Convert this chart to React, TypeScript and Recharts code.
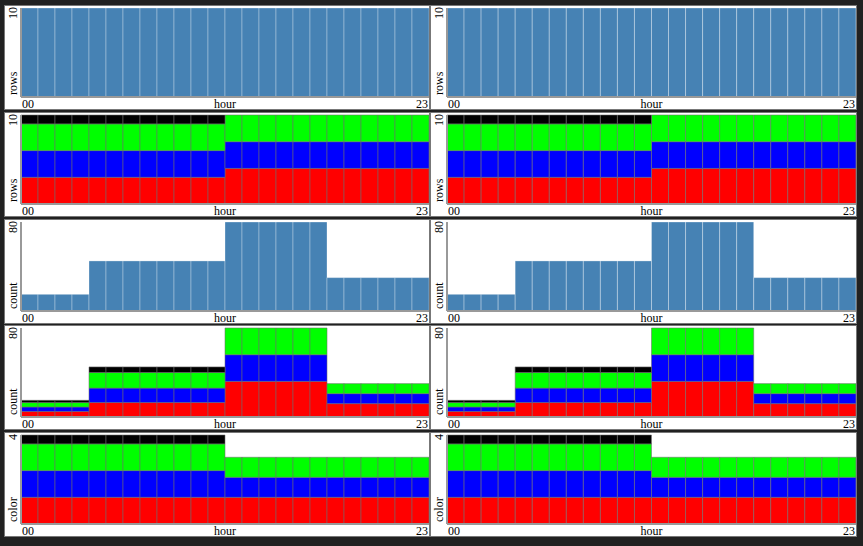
import { BarChart, Bar, XAxis, YAxis, Label } from 'recharts';

const hours = ['00', '01', '02', '03', '04', '05', '06', '07', '08', '09', '10', '11',
  '12', '13', '14', '15', '16', '17', '18', '19', '20', '21', '22', '23'];

// rows per hour (plain and split by color)
const rowsAll = [10, 10, 10, 10, 10, 10, 10, 10, 10, 10, 10, 10, 10, 10, 10, 10, 10, 10, 10, 10, 10, 10, 10, 10];
const rowsRed = [3, 3, 3, 3, 3, 3, 3, 3, 3, 3, 3, 3, 4, 4, 4, 4, 4, 4, 4, 4, 4, 4, 4, 4];
const rowsBlue = [3, 3, 3, 3, 3, 3, 3, 3, 3, 3, 3, 3, 3, 3, 3, 3, 3, 3, 3, 3, 3, 3, 3, 3];
const rowsGreen = [3, 3, 3, 3, 3, 3, 3, 3, 3, 3, 3, 3, 3, 3, 3, 3, 3, 3, 3, 3, 3, 3, 3, 3];
const rowsBlack = [1, 1, 1, 1, 1, 1, 1, 1, 1, 1, 1, 1, 0, 0, 0, 0, 0, 0, 0, 0, 0, 0, 0, 0];

// count per hour
const countAll = [15, 15, 15, 15, 45, 45, 45, 45, 45, 45, 45, 45, 80, 80, 80, 80, 80, 80, 30, 30, 30, 30, 30, 30];
const countRed = [5, 5, 5, 5, 13, 13, 13, 13, 13, 13, 13, 13, 32, 32, 32, 32, 32, 32, 12, 12, 12, 12, 12, 12];
const countBlue = [4, 4, 4, 4, 13, 13, 13, 13, 13, 13, 13, 13, 24, 24, 24, 24, 24, 24, 9, 9, 9, 9, 9, 9];
const countGreen = [4, 4, 4, 4, 14, 14, 14, 14, 14, 14, 14, 14, 24, 24, 24, 24, 24, 24, 9, 9, 9, 9, 9, 9];
const countBlack = [2, 2, 2, 2, 5, 5, 5, 5, 5, 5, 5, 5, 0, 0, 0, 0, 0, 0, 0, 0, 0, 0, 0, 0];

// color share per hour
const colorRed = [1.2, 1.2, 1.2, 1.2, 1.2, 1.2, 1.2, 1.2, 1.2, 1.2, 1.2, 1.2, 1.2, 1.2, 1.2, 1.2, 1.2, 1.2, 1.2, 1.2, 1.2, 1.2, 1.2, 1.2];
const colorBlue = [1.2, 1.2, 1.2, 1.2, 1.2, 1.2, 1.2, 1.2, 1.2, 1.2, 1.2, 1.2, 0.9, 0.9, 0.9, 0.9, 0.9, 0.9, 0.9, 0.9, 0.9, 0.9, 0.9, 0.9];
const colorGreen = [1.2, 1.2, 1.2, 1.2, 1.2, 1.2, 1.2, 1.2, 1.2, 1.2, 1.2, 1.2, 0.9, 0.9, 0.9, 0.9, 0.9, 0.9, 0.9, 0.9, 0.9, 0.9, 0.9, 0.9];
const colorBlack = [0.4, 0.4, 0.4, 0.4, 0.4, 0.4, 0.4, 0.4, 0.4, 0.4, 0.4, 0.4, 0, 0, 0, 0, 0, 0, 0, 0, 0, 0, 0, 0];

type Series = { key: string; values: number[]; fill: string };
type PanelDef = { yLabel: string; yMax: number; series: Series[]; stroke: string };

const plainStroke = 'rgba(255,255,255,0.3)';
const colorStroke = 'rgba(110,110,110,0.55)';

const panels: PanelDef[] = [
  { yLabel: 'rows', yMax: 10, stroke: plainStroke, series: [{ key: 'rows', values: rowsAll, fill: '#4682b4' }] },
  {
    yLabel: 'rows', yMax: 10, stroke: colorStroke, series: [
      { key: 'red', values: rowsRed, fill: '#ff0000' },
      { key: 'blue', values: rowsBlue, fill: '#0000ff' },
      { key: 'green', values: rowsGreen, fill: '#00ff00' },
      { key: 'black', values: rowsBlack, fill: '#000000' },
    ],
  },
  { yLabel: 'count', yMax: 80, stroke: plainStroke, series: [{ key: 'count', values: countAll, fill: '#4682b4' }] },
  {
    yLabel: 'count', yMax: 80, stroke: colorStroke, series: [
      { key: 'red', values: countRed, fill: '#ff0000' },
      { key: 'blue', values: countBlue, fill: '#0000ff' },
      { key: 'green', values: countGreen, fill: '#00ff00' },
      { key: 'black', values: countBlack, fill: '#000000' },
    ],
  },
  {
    yLabel: 'color', yMax: 4, stroke: colorStroke, series: [
      { key: 'red', values: colorRed, fill: '#ff0000' },
      { key: 'blue', values: colorBlue, fill: '#0000ff' },
      { key: 'green', values: colorGreen, fill: '#00ff00' },
      { key: 'black', values: colorBlack, fill: '#000000' },
    ],
  },
];

const font = "'Liberation Serif', 'Times New Roman', serif";

const Panel = ({ def, width }: { def: PanelDef; width: number }) => {
  const data = hours.map((h, i) => {
    const row: Record<string, string | number> = { hour: h };
    def.series.forEach((s) => { row[s.key] = s.values[i]; });
    return row;
  });

  const xLabels = (props: any) => {
    const vb = props.viewBox;
    const y = vb.y + 11;
    return (
      <g fontFamily={font} fontSize={12} fill="#000">
        <text x={vb.x + 1} y={y} textAnchor="start">{hours[0]}</text>
        <text x={vb.x + vb.width / 2} y={y} textAnchor="middle">hour</text>
        <text x={vb.x + vb.width - 1} y={y} textAnchor="end">{hours[hours.length - 1]}</text>
      </g>
    );
  };

  const yLabels = (props: any) => {
    const vb = props.viewBox;
    const bx = vb.x + vb.width - 4;
    const top = vb.y - 1;
    const bottom = vb.y + vb.height - 2;
    return (
      <g fontFamily={font} fontSize={12} fill="#000">
        <text x={bx} y={top} textAnchor="end" transform={`rotate(-90 ${bx} ${top})`}>{def.yMax}</text>
        <text x={bx} y={bottom} textAnchor="start" transform={`rotate(-90 ${bx} ${bottom})`}>{def.yLabel}</text>
      </g>
    );
  };

  return (
    <BarChart width={width} height={105} data={data} margin={{ top: 2, right: 0, bottom: 0, left: 0 }}
      barCategoryGap={0} barGap={0}>
      <XAxis dataKey="hour" tick={false} tickLine={false} height={14} axisLine={{ stroke: '#999', strokeWidth: 2 }}>
        <Label content={xLabels} />
      </XAxis>
      <YAxis type="number" domain={[0, def.yMax]} width={16} tick={false} tickLine={false}
        axisLine={{ stroke: '#999', strokeWidth: 2 }}>
        <Label content={yLabels} />
      </YAxis>
      {def.series.map((s) => (
        <Bar key={s.key} dataKey={s.key} stackId="a" fill={s.fill} stroke={def.stroke} strokeWidth={1}
          isAnimationActive={false} />
      ))}
    </BarChart>
  );
};

const App = () => {
  const cols = [{ left: 4, width: 426 }, { left: 430, width: 427 }];
  return (
    <div style={{ position: 'absolute', left: 0, top: 0, width: 863, height: 546, background: '#212121' }}>
      {panels.map((p, r) =>
        cols.map((c, k) => (
          <div key={`${r}-${k}`} style={{
            position: 'absolute', left: c.left, top: Math.round(5 + r * 106.75), width: c.width, height: 105,
            boxSizing: 'border-box', border: '1px solid #777', background: '#fff',
          }}>
            <Panel def={p} width={c.width - 2} />
          </div>
        ))
      )}
    </div>
  );
};

export default App;
